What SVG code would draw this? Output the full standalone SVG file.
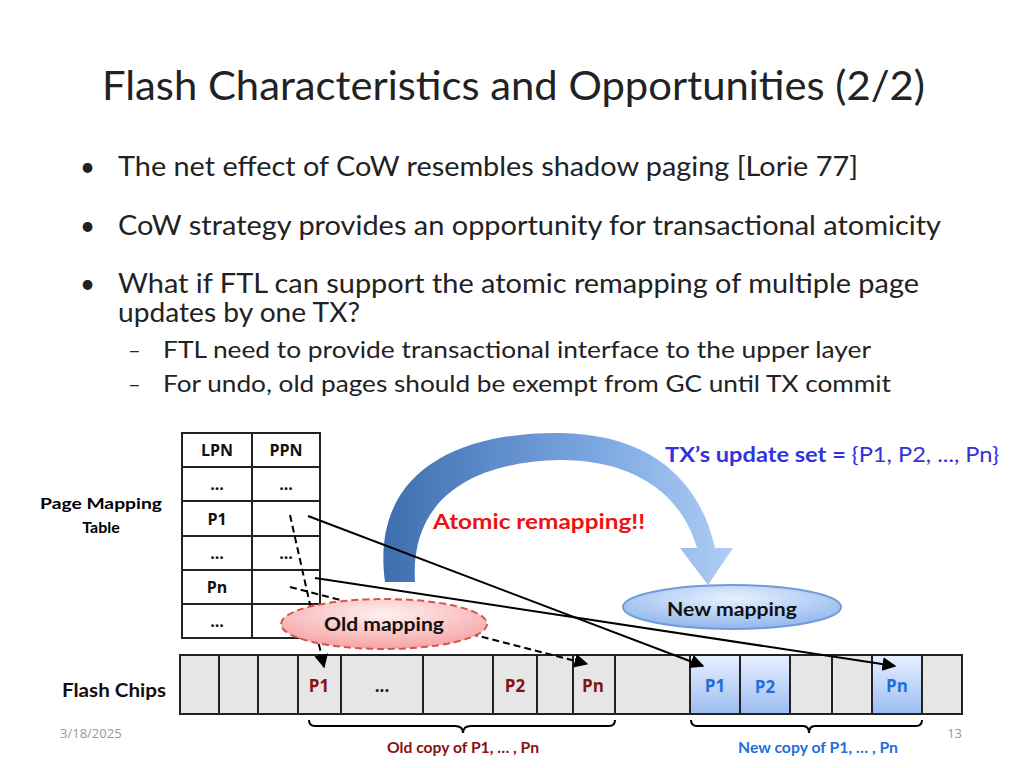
<svg xmlns="http://www.w3.org/2000/svg" width="1024" height="768" viewBox="0 0 1024 768">
<style>
text{font-family:"Open Sans","Liberation Sans",sans-serif}
.t{font-family:Lato,"Liberation Sans",sans-serif;font-size:26px;fill:#222}
.bo{font-family:Lato,"Liberation Sans",sans-serif;font-weight:bold}
.c{fill:#e6e6e6;stroke:#222;stroke-width:2}
.n{fill:url(#blue);stroke:#222;stroke-width:2}
.tb{fill:#fff;stroke:#222;stroke-width:2}
.ln{stroke:#000;stroke-width:2;fill:none}
</style>
<defs>
<linearGradient id="blue" x1="0" y1="0" x2="0" y2="1"><stop offset="0" stop-color="#e8f0ff"/><stop offset="1" stop-color="#9cbcf2"/></linearGradient>
<linearGradient id="arc" x1="0" y1="0" x2="1" y2="0"><stop offset="0" stop-color="#3f6eb0"/><stop offset="0.6" stop-color="#7aa6e0"/><stop offset="1" stop-color="#b0cdf5"/></linearGradient>
<radialGradient id="pink" cx="0.5" cy="0.3" r="0.7"><stop offset="0" stop-color="#fff0f0"/><stop offset="1" stop-color="#f5a3a3"/></radialGradient>
<radialGradient id="bl" cx="0.5" cy="0.3" r="0.7"><stop offset="0" stop-color="#e6f0ff"/><stop offset="1" stop-color="#8fb6ec"/></radialGradient>
<marker id="ah" viewBox="0 0 10 10" refX="9" refY="5" markerWidth="7" markerHeight="7" orient="auto"><path d="M0,0L10,5L0,10z" fill="#000"/></marker>
</defs>
<text x="102" y="100" textLength="823" lengthAdjust="spacingAndGlyphs" style="font-family:Lato,'Liberation Sans',sans-serif;font-size:41px;fill:#222">Flash Characteristics and Opportunities (2/2)</text>
<text x="80" y="176" class="t">•</text><text x="118" y="176" class="t" textLength="740" lengthAdjust="spacingAndGlyphs">The net effect of CoW resembles shadow paging [Lorie 77]</text>
<text x="80" y="235" class="t">•</text><text x="118" y="235" class="t" textLength="823" lengthAdjust="spacingAndGlyphs">CoW strategy provides an opportunity for transactional atomicity</text>
<text x="80" y="293" class="t">•</text><text x="118" y="293" class="t" textLength="801" lengthAdjust="spacingAndGlyphs">What if FTL can support the atomic remapping of multiple page</text>
<text x="118" y="322" class="t" textLength="242" lengthAdjust="spacingAndGlyphs">updates by one TX?</text>
<text x="128" y="358" class="t" style="font-size:22px">–</text><text x="163" y="358" class="t" style="font-size:23px" textLength="708" lengthAdjust="spacingAndGlyphs">FTL need to provide transactional interface to the upper layer</text>
<text x="128" y="392" class="t" style="font-size:22px">–</text><text x="163" y="392" class="t" style="font-size:23px" textLength="728" lengthAdjust="spacingAndGlyphs">For undo, old pages should be exempt from GC until TX commit</text>

<g id="arc-arrow"><path d="M385,582 C370,470 460,432 560,433 C650,434 700,480 715,548 L733,548 L708,585 L680,548 L697,548 C680,490 630,460 560,460 C470,462 410,500 415,582 Z" fill="url(#arc)"/></g>

<g id="table">
<rect x="182" y="433" width="70" height="34" class="tb"/><rect x="252" y="433" width="68" height="34" class="tb"/>
<rect x="182" y="467" width="70" height="34" class="tb"/><rect x="252" y="467" width="68" height="34" class="tb"/>
<rect x="182" y="501" width="70" height="35" class="tb"/><rect x="252" y="501" width="68" height="35" class="tb"/>
<rect x="182" y="536" width="70" height="34" class="tb"/><rect x="252" y="536" width="68" height="34" class="tb"/>
<rect x="182" y="570" width="70" height="34" class="tb"/><rect x="252" y="570" width="68" height="34" class="tb"/>
<rect x="182" y="604" width="70" height="34" class="tb"/><rect x="252" y="604" width="68" height="34" class="tb"/>
<g class="bo" font-size="16" text-anchor="middle" fill="#111">
<text x="217" y="456">LPN</text><text x="286" y="456">PPN</text>
<text x="217" y="490">...</text><text x="286" y="490">...</text>
<text x="217" y="525">P1</text>
<text x="217" y="559">...</text><text x="286" y="559">...</text>
<text x="217" y="593">Pn</text>
<text x="217" y="627">...</text>
</g>
<text x="101" y="509" class="bo" font-size="16" text-anchor="middle" textLength="122" lengthAdjust="spacingAndGlyphs">Page  Mapping</text>
<text x="101" y="533" class="bo" font-size="16" text-anchor="middle">Table</text>
</g>

<g id="flash">
<rect x="180" y="655" width="39" height="59" class="c"/><rect x="219" y="655" width="39" height="59" class="c"/><rect x="258" y="655" width="40" height="59" class="c"/>
<rect x="298" y="655" width="43" height="59" class="c"/><rect x="341" y="655" width="82" height="59" class="c"/><rect x="423" y="655" width="70" height="59" class="c"/>
<rect x="493" y="655" width="44" height="59" class="c"/><rect x="537" y="655" width="36" height="59" class="c"/><rect x="573" y="655" width="42" height="59" class="c"/>
<rect x="615" y="655" width="75" height="59" class="c"/><rect x="690" y="655" width="50" height="59" class="n"/><rect x="740" y="655" width="50" height="59" class="n"/>
<rect x="790" y="655" width="42" height="59" class="c"/><rect x="832" y="655" width="40" height="59" class="c"/><rect x="872" y="655" width="50" height="59" class="n"/><rect x="922" y="655" width="40" height="59" class="c"/>
<g class="bo" font-size="17" text-anchor="middle" fill="#8b1010">
<text x="319" y="692">P1</text><text x="382" y="692" fill="#222">...</text><text x="515" y="692">P2</text><text x="593" y="692">Pn</text></g>
<g class="bo" font-size="17" text-anchor="middle" fill="#1f6fdc">
<text x="715" y="692">P1</text><text x="765" y="693">P2</text><text x="897" y="692">Pn</text></g>
<text x="114" y="697" class="bo" font-size="18" text-anchor="middle" textLength="104" lengthAdjust="spacingAndGlyphs" fill="#111">Flash Chips</text>
</g>

<g id="connectors">
<line x1="290" y1="515" x2="324" y2="667" class="ln" stroke-dasharray="7,4" marker-end="url(#ah)"/>
<line x1="290" y1="587" x2="587" y2="664" class="ln" stroke-dasharray="7,4" marker-end="url(#ah)"/>
<line x1="308" y1="516" x2="703" y2="666" class="ln" marker-end="url(#ah)"/>
<line x1="315" y1="578" x2="895" y2="666" class="ln" marker-end="url(#ah)"/>
<path d="M309,720 Q309,726 315,726 L455,726 Q463,726 463,733 Q463,726 471,726 L609,726 Q615,726 615,720" class="ln"/>
<path d="M691,720 Q691,726 697,726 L803,726 Q809,726 809,733 Q809,726 815,726 L916,726 Q922,726 922,720" class="ln"/>
</g>

<g id="old-mapping"><ellipse cx="384" cy="624" rx="103" ry="25" fill="url(#pink)" stroke="#d9534f" stroke-width="2" stroke-dasharray="7,4"/>
<text x="384" y="631" class="bo" font-size="19" text-anchor="middle" textLength="120" lengthAdjust="spacingAndGlyphs" fill="#111">Old mapping</text></g>
<g id="new-mapping"><ellipse cx="732" cy="607" rx="109" ry="22" fill="url(#bl)" stroke="#6f9bd6" stroke-width="2"/>
<text x="732" y="616" class="bo" font-size="19" text-anchor="middle" textLength="130" lengthAdjust="spacingAndGlyphs" fill="#111">New mapping</text></g>

<text x="433" y="529" class="bo" font-size="20" textLength="212" lengthAdjust="spacingAndGlyphs" fill="#ee1111">Atomic remapping!!</text>
<text x="665" y="462" font-size="21" textLength="334" lengthAdjust="spacingAndGlyphs" style="font-family:Lato,'Liberation Sans',sans-serif" fill="#3333dd"><tspan font-weight="bold">TX’s update set = </tspan>{P1, P2, ..., Pn}</text>
<text x="463" y="753" class="bo" font-size="15" text-anchor="middle" textLength="152" lengthAdjust="spacingAndGlyphs" fill="#8b1010">Old copy of P1, … , Pn</text>
<text x="818" y="753" class="bo" font-size="15" text-anchor="middle" textLength="160" lengthAdjust="spacingAndGlyphs" fill="#1f6fdc">New copy of P1, … , Pn</text>
<text x="60" y="738" font-size="13" fill="#999">3/18/2025</text>
<text x="962" y="738" font-size="13" fill="#999" text-anchor="end">13</text>
</svg>
